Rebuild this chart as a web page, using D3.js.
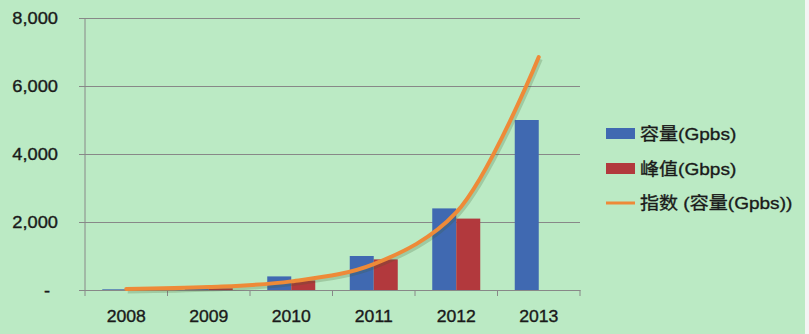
<!DOCTYPE html>
<html><head><meta charset="utf-8">
<script src="https://cdn.jsdelivr.net/npm/d3@7/dist/d3.min.js"></script>
<style>
html,body{margin:0;padding:0;background:#f4f4f4;}
svg{display:block;}
</style></head>
<body><svg id="c" width="809" height="334"></svg>
<script>
const years = ["2008","2009","2010","2011","2012","2013"];
const capacity = [20, 30, 400, 1000, 2400, 5000];
const peak = [0, 50, 280, 900, 2100, null];
const trend = [28, 85, 254, 760, 2280, 6850];
const yTicks = [0, 2000, 4000, 6000, 8000];
const seriesNames = ["容量(Gpbs)", "峰值(Gbps)", "指数 (容量(Gpbs))"];
const colors = ["#4069b1", "#b2393d", "#ee8a38"];

const svg = d3.select("#c");
svg.append("rect").attr("x",0).attr("y",0).attr("width",805).attr("height",334).attr("fill","#bbeac4");

const m = {l:85, r:580, t:18, b:290};
const x = d3.scaleBand().domain(years).range([m.l, m.r]).paddingInner(0).paddingOuter(0);
const y = d3.scaleLinear().domain([0, 8000]).range([m.b, m.t]);
const inner = d3.scaleBand().domain([0,1]).range([0, 48]);
const groupOff = (x.bandwidth() - 48) / 2;

const font = "'Liberation Sans', Arial, sans-serif";
const txtCol = "#1a1a1a";
function stretch(sel, k) {
  sel.each(function() {
    const L = this.getComputedTextLength();
    d3.select(this).attr("textLength", L * k).attr("lengthAdjust", "spacingAndGlyphs")
      .attr("stroke", txtCol).attr("stroke-width", 0.35);
  });
}

// gridlines
const yAxis = d3.axisLeft(y).tickValues(yTicks).tickSize(-(m.r - m.l)).tickPadding(27)
  .tickFormat(d => d === 0 ? "-" : d3.format(",")(d));
const gy = svg.append("g").attr("transform", `translate(${m.l},0)`).call(yAxis);
gy.select(".domain").remove();
gy.selectAll(".tick line").attr("stroke", "#888").attr("stroke-width", 1).attr("x1", -6);
gy.selectAll(".tick text").attr("font-family", font).attr("font-size", 16).attr("fill", txtCol);
gy.selectAll(".tick").filter(d => d === 0).select("text").attr("dx", -8);
stretch(gy.selectAll(".tick text"), 1.14);
svg.append("line").attr("x1", m.l).attr("x2", m.l).attr("y1", m.t).attr("y2", m.b + 6)
  .attr("stroke", "#888");

// x axis
const xAxis = d3.axisBottom(x).tickSize(0).tickPadding(21);
const gx = svg.append("g").attr("transform", `translate(0,${m.b})`).call(xAxis);
gx.select(".domain").attr("stroke", "#888");
gx.selectAll(".tick text").attr("font-family", font).attr("font-size", 16).attr("fill", txtCol);
stretch(gx.selectAll(".tick text"), 1.1);
svg.append("g").selectAll("line").data(years.slice(1).concat(["end"])).join("line")
  .attr("x1", (d,i) => m.l + x.step() * (i + 1)).attr("x2", (d,i) => m.l + x.step() * (i + 1))
  .attr("y1", m.b).attr("y2", m.b + 6).attr("stroke", "#888");

// bars
const bars = svg.append("g");
[capacity, peak].forEach((arr, si) => {
  bars.selectAll(null).data(arr.map((v, i) => ({v, yr: years[i]})).filter(d => d.v != null))
    .join("rect")
    .attr("x", d => x(d.yr) + groupOff + inner(si))
    .attr("width", inner.bandwidth())
    .attr("y", d => y(d.v))
    .attr("height", d => y(0) - y(d.v))
    .attr("fill", colors[si]);
});

// trend line
const pts = trend.map((v, i) => [x(years[i]) + x.bandwidth() / 2, y(v)]);
const line = d3.line().curve(d3.curveCatmullRom.alpha(0.5));
svg.append("path").attr("d", line(pts)).attr("fill", "none")
  .attr("stroke", "rgba(60,90,40,0.22)").attr("stroke-width", 5)
  .attr("transform", "translate(1.5,2)");
svg.append("path").attr("d", line(pts)).attr("fill", "none")
  .attr("stroke", colors[2]).attr("stroke-width", 4).attr("stroke-linecap", "round");

// legend
const lg = svg.append("g").attr("transform", "translate(606,0)");
const rows = [134, 169, 203];
seriesNames.forEach((name, i) => {
  if (i < 2) {
    lg.append("rect").attr("x", 0).attr("y", rows[i] - 6).attr("width", 29).attr("height", 11).attr("fill", colors[i]);
  } else {
    lg.append("line").attr("x1", 0).attr("x2", 29).attr("y1", rows[i]).attr("y2", rows[i])
      .attr("stroke", colors[i]).attr("stroke-width", 3);
  }
  const t = lg.append("text").attr("x", 34).attr("y", rows[i]).attr("dy", "0.35em")
    .attr("font-family", "'Liberation Sans', 'Noto Sans CJK SC', Arial, sans-serif")
    .attr("font-size", 17).attr("fill", txtCol).text(name);
  stretch(t, 1.12);
});
</script></body></html>
